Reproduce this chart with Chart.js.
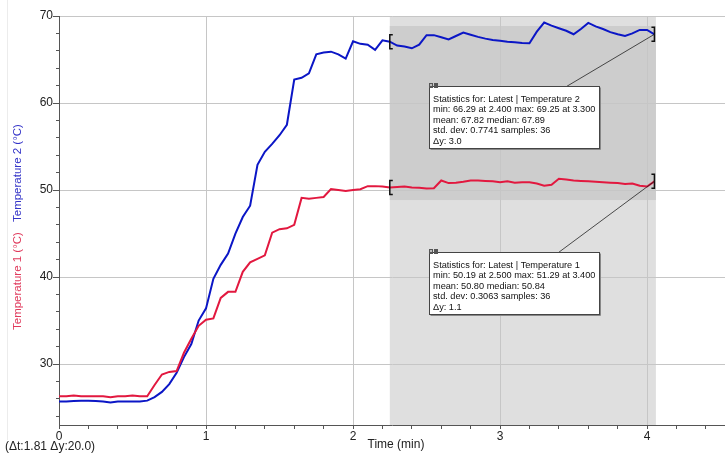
<!DOCTYPE html>
<html>
<head>
<meta charset="utf-8">
<script src="https://cdn.jsdelivr.net/npm/chart.js@4.4.1/dist/chart.umd.min.js"></script>
<style>
  html, body { margin: 0; padding: 0; background: #fff; }
  #wrap { width: 725px; height: 453px; position: relative; }
</style>
</head>
<body>
<div id="wrap"><canvas id="myChart"></canvas></div>
<script>
// time in minutes
let times = [0.00, 0.05, 0.10, 0.15, 0.20, 0.25, 0.30, 0.35, 0.40, 0.45,
  0.50, 0.55, 0.60, 0.65, 0.70, 0.75, 0.80, 0.85, 0.90, 0.95,
  1.00, 1.05, 1.10, 1.15, 1.20, 1.25, 1.30, 1.35, 1.40, 1.45,
  1.50, 1.55, 1.60, 1.65, 1.70, 1.75, 1.80, 1.85, 1.90, 1.95,
  2.00, 2.05, 2.10, 2.15, 2.20, 2.25, 2.30, 2.35, 2.40, 2.45,
  2.50, 2.55, 2.60, 2.65, 2.70, 2.75, 2.80, 2.85, 2.90, 2.95,
  3.00, 3.05, 3.10, 3.15, 3.20, 3.25, 3.30, 3.35, 3.40, 3.45,
  3.50, 3.55, 3.60, 3.65, 3.70, 3.75, 3.80, 3.85, 3.90, 3.95,
  4.00, 4.05];
let temp1 = [26.3, 26.3, 26.4, 26.3, 26.3, 26.3, 26.3, 26.2, 26.3, 26.3,
  26.4, 26.3, 26.3, 27.6, 28.8, 29.1, 29.2, 31.3, 32.9, 34.4,
  35.1, 35.25, 37.6, 38.3, 38.3, 40.6, 41.7, 42.1, 42.5, 45.1,
  45.5, 45.6, 46.0, 49.1, 49.0, 49.1, 49.2, 50.1, 50.0, 49.9,
  50.0, 50.1, 50.45, 50.45, 50.4, 50.3, 50.35, 50.4, 50.3, 50.25,
  50.19, 50.2, 51.1, 50.8, 50.85, 50.95, 51.1, 51.1, 51.05, 51.0,
  50.9, 51.0, 50.85, 50.9, 50.9, 50.75, 50.5, 50.6, 51.29, 51.2,
  51.1, 51.05, 51.0, 50.95, 50.9, 50.85, 50.8, 50.7, 50.75, 50.5,
  50.4, 51.0];
let temp2 = [25.7, 25.7, 25.75, 25.8, 25.8, 25.75, 25.7, 25.6, 25.7, 25.7,
  25.7, 25.7, 25.8, 26.2, 26.8, 27.7, 29.0, 30.8, 32.3, 35.0,
  36.4, 39.8, 41.4, 42.7, 45.0, 46.9, 48.2, 52.9, 54.4, 55.3,
  56.3, 57.5, 62.7, 62.9, 63.4, 65.6, 65.8, 65.9, 65.6, 65.1,
  67.1, 66.8, 66.7, 66.1, 67.2, 67.05, 66.6, 66.5, 66.29, 66.7,
  67.8, 67.8, 67.55, 67.3, 67.7, 68.1, 67.85, 67.6, 67.4, 67.25,
  67.15, 67.05, 66.97, 66.9, 66.86, 68.2, 69.25, 68.9, 68.6, 68.3,
  67.9, 68.5, 69.2, 68.8, 68.5, 68.15, 67.9, 67.7, 68.0, 68.4,
  68.4, 67.9];

// selected region (Δt, Δy)
let selX = [2.25, 4.06];
let selY = [48.85, 68.85];

let stats2 = ['Statistics for: Latest | Temperature 2',
  'min: 66.29 at 2.400 max: 69.25 at 3.300',
  'mean: 67.82 median: 67.89',
  'std. dev: 0.7741 samples: 36',
  'Δy: 3.0'];
let stats1 = ['Statistics for: Latest | Temperature 1',
  'min: 50.19 at 2.500 max: 51.29 at 3.400',
  'mean: 50.80 median: 50.84',
  'std. dev: 0.3063 samples: 36',
  'Δy: 1.1'];
// top-left corner of each stats box, in data units
let stats2At = [2.518, 61.95];
let stats1At = [2.52, 42.85];

const RED = '#e2183f';
const BLUE = '#0b16c6';
const FONT = '"Liberation Sans", Arial, sans-serif';

function pts(ys) {
  return times.map((t, i) => ({ x: t, y: ys[i] }));
}

function stepTicks(from, to, step) {
  let out = [];
  for (let v = from; v <= to + 1e-9; v += step) out.push({ value: Math.round(v * 100) / 100 });
  return out;
}

function isMajor(v) {
  return Math.abs(v - Math.round(v)) < 1e-6;
}

const decor = {
  id: 'decor',
  beforeDraw(chart) {
    const { ctx, chartArea: a, scales: { x, y } } = chart;
    const x0 = x.getPixelForValue(selX[0]);
    const x1 = x.getPixelForValue(selX[1]);
    ctx.save();
    // faint frame line at the far left
    ctx.strokeStyle = '#ececec';
    ctx.lineWidth = 1;
    ctx.beginPath();
    ctx.moveTo(7.5, 0); ctx.lineTo(7.5, 440);
    ctx.stroke();
    ctx.fillStyle = '#dfdfdf';
    ctx.fillRect(x0, a.top, x1 - x0, a.bottom - a.top);
    ctx.fillStyle = '#cdcdcd';
    const y0 = y.getPixelForValue(selY[1]);
    const y1 = y.getPixelForValue(selY[0]);
    ctx.fillRect(x0, y0, x1 - x0, y1 - y0);
    ctx.restore();
  },
  afterDraw(chart) {
    const { ctx, chartArea: a, scales: { x, y } } = chart;
    ctx.save();

    // longer marks on the major y ticks
    ctx.strokeStyle = '#555';
    ctx.lineWidth = 1;
    y.ticks.forEach(t => {
      if (Math.round(t.value) % 10 !== 0) return;
      const py = Math.round(y.getPixelForValue(t.value)) + 0.5;
      ctx.beginPath();
      ctx.moveTo(a.left - 6, py); ctx.lineTo(a.left, py);
      ctx.stroke();
    });

    // brackets at ends of the selection
    const i0 = times.findIndex(t => t >= selX[0] - 1e-9);
    const i1 = times.length - 1;
    ctx.strokeStyle = '#111';
    ctx.lineWidth = 1.5;
    [temp2, temp1].forEach(ys => {
      let px = x.getPixelForValue(times[i0]);
      let py = y.getPixelForValue(ys[i0]);
      ctx.beginPath();
      ctx.moveTo(px + 3, py - 7); ctx.lineTo(px, py - 7); ctx.lineTo(px, py + 7); ctx.lineTo(px + 3, py + 7);
      ctx.stroke();
      px = x.getPixelForValue(times[i1]);
      py = y.getPixelForValue(ys[i1]);
      ctx.beginPath();
      ctx.moveTo(px - 3, py - 7); ctx.lineTo(px, py - 7); ctx.lineTo(px, py + 7); ctx.lineTo(px - 3, py + 7);
      ctx.stroke();
    });

    // stats boxes
    const boxes = [[stats2At, stats2, temp2, 137], [stats1At, stats1, temp1, 129]];
    boxes.forEach(([at, lines, ys, hook]) => {
      const bx = Math.round(x.getPixelForValue(at[0])) + 0.5;
      const by = Math.round(y.getPixelForValue(at[1])) + 0.5;
      const w = 170, h = 62;
      // connector line to the end bracket
      ctx.strokeStyle = '#222';
      ctx.lineWidth = 0.8;
      ctx.beginPath();
      ctx.moveTo(bx + hook, by);
      ctx.lineTo(x.getPixelForValue(times[i1]), y.getPixelForValue(ys[i1]));
      ctx.stroke();
      ctx.fillStyle = '#fff';
      ctx.fillRect(bx, by, w, h);
      ctx.strokeStyle = '#444';
      ctx.lineWidth = 1;
      ctx.strokeRect(bx, by, w, h);
      ctx.strokeStyle = '#888';
      ctx.beginPath();
      ctx.moveTo(bx + 1, by + h + 1); ctx.lineTo(bx + w + 1, by + h + 1); ctx.lineTo(bx + w + 1, by + 1);
      ctx.stroke();
      // little handle icon
      ctx.fillStyle = '#555';
      ctx.fillRect(bx - 0.5, by - 3.5, 4, 5);
      ctx.fillRect(bx + 4.5, by - 3.5, 4, 5);
      ctx.fillStyle = '#bbb';
      ctx.fillRect(bx + 0.5, by - 2.5, 2, 2);
      ctx.fillStyle = '#111';
      ctx.font = '9.2px ' + FONT;
      ctx.textBaseline = 'middle';
      ctx.textAlign = 'left';
      const offs = [12.5, 23, 33.5, 44, 55];
      lines.forEach((s, k) => ctx.fillText(s, bx + 3.5, by + offs[k]));
    });

    // axis titles
    ctx.font = '12px ' + FONT;
    ctx.fillStyle = '#222';
    ctx.textBaseline = 'middle';
    ctx.textAlign = 'center';
    ctx.fillText('Time (min)', 396, 445);
    ctx.textAlign = 'left';
    ctx.fillText('(Δt:1.81 Δy:20.0)', 5, 447);

    ctx.translate(18, 0);
    ctx.rotate(-Math.PI / 2);
    ctx.font = '11.5px ' + FONT;
    ctx.textAlign = 'left';
    ctx.fillStyle = '#e03a5c';
    ctx.fillText('Temperature 1 (°C)', -330, 0);
    ctx.fillStyle = '#3434c8';
    ctx.fillText('Temperature 2 (°C)', -222, 0);
    ctx.restore();
  }
};

let ctx = document.getElementById('myChart').getContext('2d');

let myChart = new Chart(ctx, {
  type: 'line',
  data: {
    datasets: [{
      label: 'Temperature 1',
      data: pts(temp1),
      borderColor: RED,
      borderWidth: 2
    }, {
      label: 'Temperature 2',
      data: pts(temp2),
      borderColor: BLUE,
      borderWidth: 2
    }]
  },
  options: {
    responsive: true,
    maintainAspectRatio: false,
    animation: false,
    layout: { padding: { top: 16, left: 0, right: 0, bottom: 0 } },
    elements: { point: { radius: 0 }, line: { tension: 0 } },
    plugins: { legend: { display: false }, tooltip: { enabled: false } },
    scales: {
      x: {
        type: 'linear',
        min: 0,
        max: 4.53,
        afterBuildTicks: s => { s.ticks = stepTicks(0, 4.4, 0.2); },
        afterFit: s => { s.height = 28; },
        ticks: {
          autoSkip: false,
          maxRotation: 0,
          padding: 0,
          color: '#222',
          font: { family: FONT, size: 12 },
          callback: v => isMajor(v) ? String(Math.round(v)) : ''
        },
        grid: {
          color: c => (c.tick && isMajor(c.tick.value) && c.tick.value !== 0) ? '#c6c6c6' : 'rgba(0,0,0,0)',
          tickColor: '#555',
          tickLength: 4
        },
        border: { color: '#555' }
      },
      y: {
        min: 23,
        max: 70,
        afterBuildTicks: s => { s.ticks = stepTicks(24, 70, 2); },
        afterFit: s => { s.width = 59; },
        ticks: {
          autoSkip: false,
          padding: 3,
          color: '#222',
          font: { family: FONT, size: 12 },
          callback: v => (Math.round(v) % 10 === 0) ? String(Math.round(v)) : ''
        },
        grid: {
          color: c => (c.tick && Math.round(c.tick.value) % 10 === 0) ? '#c6c6c6' : 'rgba(0,0,0,0)',
          tickColor: '#555',
          tickLength: 3
        },
        border: { color: '#555' }
      }
    }
  },
  plugins: [decor]
});
</script>
</body>
</html>
